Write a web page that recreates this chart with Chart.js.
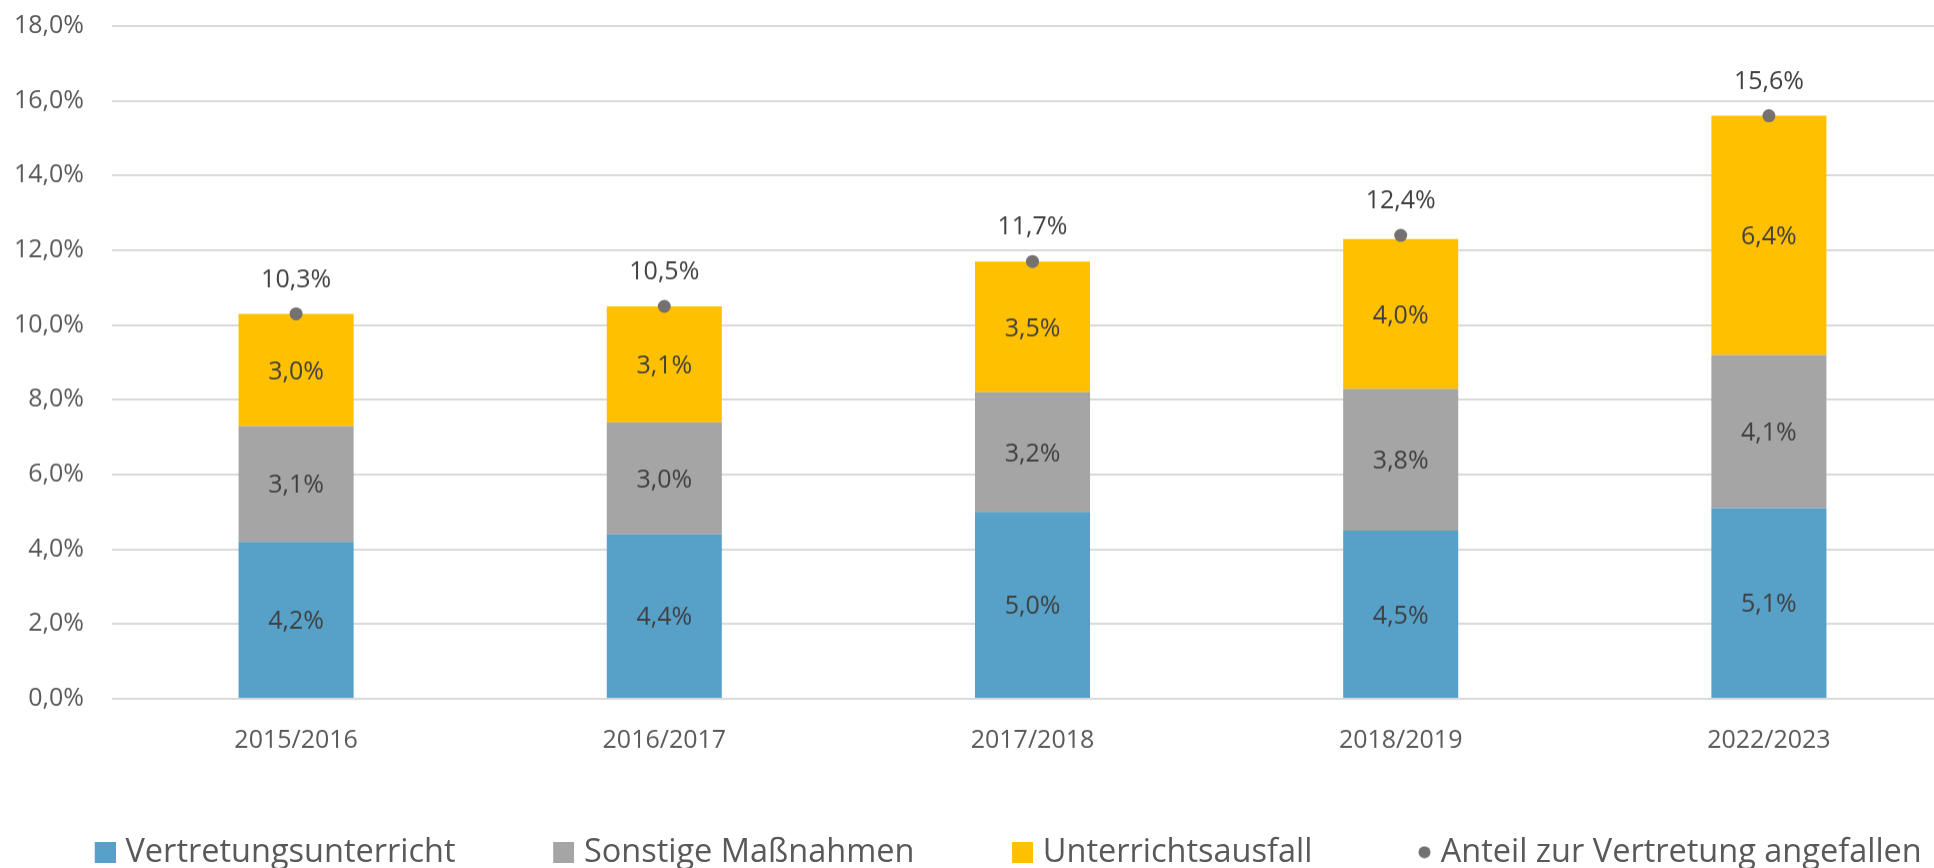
<!DOCTYPE html>
<html lang="de">
<head>
<meta charset="utf-8">
<title>Vertretung</title>
<script src="https://cdn.jsdelivr.net/npm/chart.js@4"></script>
<style>
  html, body { margin: 0; padding: 0; background: #fff; overflow: hidden; }
  /* canvas shifted up/left: the y tick padding adds empty space above the plot,
     and the legend needs a bit more room than the window to stay on one row */
  #wrap { position: relative; width: 2076px; height: 894.5px; margin-top: -17px; margin-left: -40px; }
</style>
</head>
<body>
<div id="wrap"><canvas id="chart"></canvas></div>
<script>
// data
const years = ["2015/2016", "2016/2017", "2017/2018", "2018/2019", "2022/2023"];
const vertretung = [4.2, 4.4, 5.0, 4.5, 5.1];
const sonstige = [3.1, 3.0, 3.2, 3.8, 4.1];
const ausfall = [3.0, 3.1, 3.5, 4.0, 6.4];
const anteil = [10.3, 10.5, 11.7, 12.4, 15.6];

const FONT = "'Open Sans', sans-serif";
const colors = ["#57A1C9", "#A5A5A5", "#FFC000", "#767171"];

function fmt(v) {
  return v.toFixed(1).replace(".", ",") + "%";
}

// legend markers: drawn at the right side of a wide canvas so the gap to the text stays small
function legendSquare(color) {
  let c = document.createElement("canvas");
  c.width = 48; c.height = 21;
  let g = c.getContext("2d");
  g.fillStyle = color;
  g.fillRect(27, 0, 21, 21);
  return c;
}
function legendDot(color) {
  let c = document.createElement("canvas");
  c.width = 48; c.height = 13;
  let g = c.getContext("2d");
  g.fillStyle = color;
  g.beginPath();
  g.arc(41.5, 6.5, 6, 0, Math.PI * 2);
  g.fill();
  return c;
}
const marks = [legendSquare(colors[0]), legendSquare(colors[1]), legendSquare(colors[2]), legendDot(colors[3])];

// value labels inside bars and above the dots
const labelPlugin = {
  id: "valueLabels",
  afterDatasetsDraw(chart) {
    let ctx = chart.ctx;
    ctx.save();
    ctx.font = "25px " + FONT;
    ctx.fillStyle = "#404040";
    ctx.textAlign = "center";
    ctx.textBaseline = "middle";
    chart.data.datasets.forEach((ds, di) => {
      let meta = chart.getDatasetMeta(di);
      meta.data.forEach((el, i) => {
        if (ds.type === "line") {
          ctx.fillText(fmt(ds.data[i]), el.x, el.y - 34);
        } else {
          ctx.fillText(fmt(ds.data[i]), el.x, (el.y + el.base) / 2 + 2);
        }
      });
    });
    ctx.restore();
  }
};

let ctx = document.getElementById("chart").getContext("2d");
new Chart(ctx, {
  data: {
    labels: years,
    datasets: [
      { type: "bar", label: "Vertretungsunterricht", data: vertretung, backgroundColor: colors[0], stack: "a", order: 2 },
      { type: "bar", label: "Sonstige Maßnahmen", data: sonstige, backgroundColor: colors[1], stack: "a", order: 2 },
      { type: "bar", label: "Unterrichtsausfall", data: ausfall, backgroundColor: colors[2], stack: "a", order: 2 },
      {
        type: "line", label: "Anteil zur Vertretung angefallen", data: anteil, stack: "b", order: 1,
        showLine: false, pointRadius: 6.5, pointBackgroundColor: colors[3], pointBorderWidth: 0,
        borderColor: colors[3], backgroundColor: colors[3]
      }
    ]
  },
  options: {
    responsive: true,
    maintainAspectRatio: false,
    animation: false,
    layout: { padding: 0 },
    datasets: { bar: { barPercentage: 0.3125, categoryPercentage: 1 } },
    scales: {
      x: {
        stacked: true,
        grid: { display: false, drawTicks: false },
        border: { display: false },
        ticks: { color: "#595959", font: { family: FONT, size: 25 }, padding: 27, maxRotation: 0, autoSkip: false },
        afterFit(s) { s.height = 60; }
      },
      y: {
        stacked: true,
        min: 0,
        max: 18,
        grid: { color: "#D9D9D9", lineWidth: 2, drawTicks: false },
        border: { display: false },
        ticks: { stepSize: 2, color: "#595959", font: { family: FONT, size: 25 }, padding: 28, callback: v => fmt(v) },
        afterFit(s) { s.width = 152; }
      },
      yR: {
        position: "right",
        grid: { display: false, drawTicks: false },
        border: { display: false },
        ticks: { display: false },
        afterFit(s) { s.width = 83; }
      }
    },
    plugins: {
      tooltip: { enabled: false },
      legend: {
        position: "bottom",
        labels: {
          color: "#595959",
          font: { family: FONT, size: 32.5 },
          usePointStyle: true,
          pointStyleWidth: 35,
          boxWidth: 21,
          boxHeight: 21,
          padding: 77,
          sort: (a, b) => a.datasetIndex - b.datasetIndex,
          generateLabels(chart) {
            let items = Chart.defaults.plugins.legend.labels.generateLabels(chart);
            items.forEach(it => { it.pointStyle = marks[it.datasetIndex]; });
            return items;
          }
        }
      }
    }
  },
  plugins: [labelPlugin]
});
</script>
</body>
</html>
